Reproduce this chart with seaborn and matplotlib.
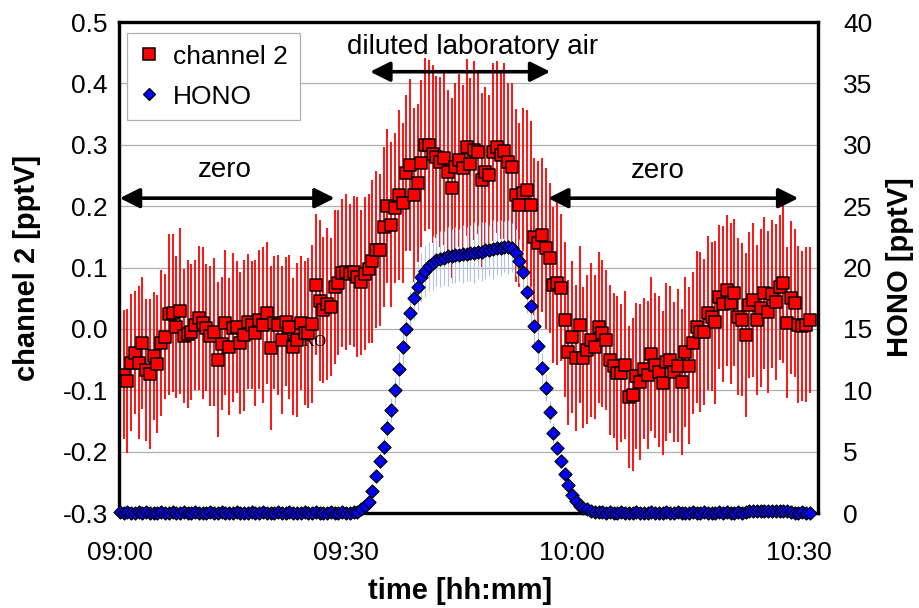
import numpy as np
import matplotlib
matplotlib.use("Agg")
import matplotlib.pyplot as plt
from matplotlib.lines import Line2D
import seaborn as sns

# ---------------- data (30 s samples starting 09:00) ----------------
start_label = "09:00"
step_min = 0.5

ch2 = [
    -0.078, -0.075, -0.085, -0.055, -0.039, -0.055, -0.023, -0.067, -0.073, -0.044,
    -0.057, -0.023, -0.013, 0.024, 0.026, 0.003, 0.029, -0.011, -0.008, -0.005,
    0.006, 0.018, 0.010, 0.002, -0.012, -0.005, -0.050, -0.024, 0.010, -0.029,
    0.002, 0.003, -0.023, -0.010, 0.012, 0.006, -0.007, 0.015, 0.006, 0.026,
    -0.031, 0.010, 0.006, -0.018, 0.012, 0.003, -0.029, -0.018, 0.010, -0.007,
    -0.007, 0.008, 0.072, 0.046, 0.031, 0.040, 0.036, 0.068, 0.075, 0.091,
    0.093, 0.089, 0.093, 0.085, 0.076, 0.090, 0.098, 0.110, 0.129, 0.129,
    0.166, 0.200, 0.170, 0.197, 0.218, 0.205, 0.254, 0.267, 0.218, 0.238,
    0.270, 0.300, 0.300, 0.285, 0.280, 0.272, 0.279, 0.256, 0.230, 0.264,
    0.275, 0.262, 0.296, 0.269, 0.291, 0.288, 0.243, 0.256, 0.250, 0.288,
    0.296, 0.283, 0.290, 0.272, 0.264, 0.218, 0.202, 0.221, 0.226, 0.202,
    0.150, 0.140, 0.153, 0.131, 0.116, 0.072, 0.075, 0.067, 0.015, -0.038,
    -0.013, -0.047, 0.007, -0.047, -0.034, -0.018, -0.029, 0.003, -0.007, -0.018,
    -0.051, -0.060, -0.072, -0.072, -0.059, -0.111, -0.107, -0.077, -0.086, -0.065,
    -0.075, -0.041, -0.059, -0.070, -0.088, -0.054, -0.050, -0.070, -0.060, -0.086,
    -0.038, -0.060, -0.023, 0.003, -0.005, -0.005, 0.026, 0.020, 0.011, 0.052,
    0.040, 0.063, 0.042, 0.059, 0.020, 0.015, -0.010, 0.039, 0.047, 0.015,
    0.034, 0.059, 0.028, 0.057, 0.044, 0.068, 0.075, 0.010, 0.051, 0.042,
    0.007, 0.005, 0.007, 0.015,
]

ch2_err = [
    0.110, 0.105, 0.118, 0.112, 0.100, 0.125, 0.108, 0.115, 0.122, 0.104,
    0.113, 0.119, 0.102, 0.131, 0.128, 0.116, 0.135, 0.109, 0.121, 0.111,
    0.106, 0.117, 0.124, 0.103, 0.114, 0.120, 0.126, 0.108, 0.118, 0.112,
    0.121, 0.107, 0.115, 0.123, 0.110, 0.104, 0.119, 0.113, 0.127, 0.116,
    0.133, 0.108, 0.114, 0.121, 0.105, 0.118, 0.112, 0.125, 0.109, 0.117,
    0.122, 0.128, 0.115, 0.131, 0.119, 0.124, 0.112, 0.126, 0.118, 0.121,
    0.127, 0.115, 0.123, 0.130, 0.118, 0.125, 0.121, 0.133, 0.128, 0.124,
    0.130, 0.126, 0.135, 0.122, 0.138, 0.131, 0.127, 0.140, 0.142, 0.129,
    0.136, 0.141, 0.138, 0.145, 0.132, 0.139, 0.143, 0.134, 0.147, 0.137,
    0.141, 0.135, 0.144, 0.139, 0.146, 0.133, 0.142, 0.138, 0.131, 0.145,
    0.140, 0.136, 0.143, 0.129, 0.137, 0.141, 0.134, 0.139, 0.130, 0.136,
    0.128, 0.133, 0.125, 0.131, 0.122, 0.127, 0.134, 0.120, 0.126, 0.118,
    0.124, 0.119, 0.128, 0.115, 0.121, 0.126, 0.117, 0.123, 0.120, 0.114,
    0.122, 0.118, 0.125, 0.113, 0.120, 0.116, 0.124, 0.119, 0.127, 0.115,
    0.121, 0.126, 0.118, 0.123, 0.117, 0.129, 0.120, 0.114, 0.125, 0.119,
    0.122, 0.128, 0.116, 0.124, 0.130, 0.119, 0.126, 0.121, 0.133, 0.118,
    0.127, 0.123, 0.131, 0.120, 0.128, 0.125, 0.134, 0.119, 0.126, 0.122,
    0.129, 0.124, 0.132, 0.121, 0.127, 0.118, 0.130, 0.123, 0.125, 0.120,
    0.128, 0.122, 0.126, 0.119,
]

hono = [
    0.1, 0.0, 0.1, 0.0, 0.0, 0.1, 0.0, 0.1, 0.0, 0.0,
    0.0, 0.1, 0.0, 0.0, 0.1, 0.0, 0.0, 0.1, 0.0, 0.0,
    0.1, 0.0, 0.0, 0.0, 0.1, 0.0, 0.0, 0.1, 0.0, 0.0,
    0.0, 0.1, 0.0, 0.0, 0.0, 0.1, 0.0, 0.0, 0.1, 0.0,
    0.0, 0.0, 0.1, 0.0, 0.0, 0.1, 0.0, 0.0, 0.0, 0.1,
    0.0, 0.0, 0.1, 0.0, 0.0, 0.0, 0.1, 0.0, 0.0, 0.1,
    0.0, 0.0, 0.1, 0.1, 0.3, 0.6, 0.9, 1.8, 3.0, 4.2,
    5.4, 6.9, 8.4, 10.0, 11.7, 13.5, 15.0, 16.3, 17.5, 18.4,
    19.2, 19.7, 20.1, 20.4, 20.6, 20.7, 20.8, 20.9, 20.9, 21.0,
    21.0, 21.1, 21.1, 21.2, 21.2, 21.3, 21.3, 21.4, 21.4, 21.5,
    21.6, 21.6, 21.7, 21.7, 21.6, 21.2, 20.5, 19.6, 18.0, 16.9,
    15.2, 13.6, 11.8, 10.2, 8.2, 6.5, 5.3, 4.2, 3.2, 2.3,
    1.5, 1.0, 0.6, 0.4, 0.3, 0.2, 0.1, 0.1, 0.1, 0.0,
    0.1, 0.0, 0.0, 0.1, 0.0, 0.0, 0.0, 0.1, 0.0, 0.0,
    0.0, 0.1, 0.0, 0.0, 0.0, 0.1, 0.0, 0.0, 0.1, 0.0,
    0.0, 0.0, 0.1, 0.0, 0.0, 0.1, 0.0, 0.0, 0.0, 0.1,
    0.0, 0.1, 0.0, 0.0, 0.1, 0.0, 0.1, 0.2, 0.2, 0.2,
    0.2, 0.2, 0.2, 0.2, 0.2, 0.2, 0.2, 0.2, 0.1, 0.0,
    0.0, 0.1, 0.0, 0.0,
]

hono_err = [
    0.0, 0.0, 0.0, 0.0, 0.0, 0.0, 0.0, 0.0, 0.0, 0.0,
    0.0, 0.0, 0.0, 0.0, 0.0, 0.0, 0.0, 0.0, 0.0, 0.0,
    0.0, 0.0, 0.0, 0.0, 0.0, 0.0, 0.0, 0.0, 0.0, 0.0,
    0.0, 0.0, 0.0, 0.0, 0.0, 0.0, 0.0, 0.0, 0.0, 0.0,
    0.0, 0.0, 0.0, 0.0, 0.0, 0.0, 0.0, 0.0, 0.0, 0.0,
    0.0, 0.0, 0.0, 0.0, 0.0, 0.0, 0.0, 0.0, 0.0, 0.0,
    0.0, 0.0, 0.0, 0.1, 0.1, 0.2, 0.3, 0.4, 0.5, 0.6,
    0.7, 0.8, 1.0, 1.1, 1.3, 1.4, 1.6, 1.7, 1.8, 1.9,
    2.0, 2.1, 2.0, 2.2, 2.1, 2.3, 2.2, 2.4, 2.2, 2.3,
    2.1, 2.4, 2.2, 2.3, 2.5, 2.2, 2.4, 2.3, 2.1, 2.4,
    2.2, 2.3, 2.1, 2.2, 2.0, 1.9, 1.8, 1.8, 1.7, 1.6,
    1.5, 1.4, 1.2, 1.1, 0.9, 0.8, 0.6, 0.5, 0.4, 0.3,
    0.2, 0.2, 0.1, 0.1, 0.1, 0.0, 0.0, 0.0, 0.0, 0.0,
    0.0, 0.0, 0.0, 0.0, 0.0, 0.0, 0.0, 0.0, 0.0, 0.0,
    0.0, 0.0, 0.0, 0.0, 0.0, 0.0, 0.0, 0.0, 0.0, 0.0,
    0.0, 0.0, 0.0, 0.0, 0.0, 0.0, 0.0, 0.0, 0.0, 0.0,
    0.0, 0.0, 0.0, 0.0, 0.0, 0.0, 0.0, 0.0, 0.0, 0.0,
    0.0, 0.0, 0.0, 0.0, 0.0, 0.0, 0.0, 0.0, 0.0, 0.0,
    0.0, 0.0, 0.0, 0.0,
]

x_tick_labels = ["09:00", "09:30", "10:00", "10:30"]
left_ticks = [-0.3, -0.2, -0.1, 0.0, 0.1, 0.2, 0.3, 0.4, 0.5]
right_ticks = [0, 5, 10, 15, 20, 25, 30, 35, 40]

# ---------------- helpers ----------------
def to_min(label):
    h, m = label.split(":")
    sh, sm = start_label.split(":")
    return (int(h) * 60 + int(m)) - (int(sh) * 60 + int(sm))

n = len(ch2)
assert len(ch2_err) == n and len(hono) == n and len(hono_err) == n
t = np.arange(n) * step_min

# ---------------- style ----------------
sns.set_theme(style="white")
plt.rcParams["font.family"] = ["Liberation Sans", "DejaVu Sans"]
plt.rcParams["text.color"] = "black"
plt.rcParams["axes.labelcolor"] = "black"
plt.rcParams["xtick.color"] = "black"
plt.rcParams["ytick.color"] = "black"

fig = plt.figure(figsize=(9.19, 6.08), dpi=100)
ax = fig.add_axes([0.1295, 0.1562, 0.7606, 0.8076])
ax2 = ax.twinx()

# channel 2 (left axis)
ax.errorbar(t, ch2, yerr=ch2_err, fmt="none", ecolor="#ff0000", elinewidth=1.3, zorder=2)
sns.scatterplot(x=t, y=ch2, ax=ax, marker="s", s=72, color="#ff0000",
                edgecolor="black", linewidth=1.1, zorder=4, legend=False)

ax.text(to_min("09:24") + 0.6, -0.021, "ZERO", family=["Liberation Serif", "DejaVu Serif"],
        fontsize=12, ha="center", va="center", zorder=3, color="black")

# HONO (right axis)
ax2.errorbar(t, hono, yerr=hono_err, fmt="none", ecolor="#b4c4e0", elinewidth=0.8, zorder=2)
sns.scatterplot(x=t, y=hono, ax=ax2, marker="D", s=44, color="#0000ff",
                edgecolor="black", linewidth=0.9, zorder=4, legend=False)
for c in ax2.collections:
    c.set_clip_on(False)

# axes limits / ticks
ax.set_xlim(-0.1, 92.6)
ax.set_ylim(-0.3, 0.5)
ax2.set_ylim(0, 40)
ax.set_xticks([to_min(l) for l in x_tick_labels])
ax.set_xticklabels(x_tick_labels)
ax.set_yticks(left_ticks)
ax.set_yticklabels([f"{v:.1f}" for v in left_ticks])
ax2.set_yticks(right_ticks)
ax2.set_yticklabels([str(v) for v in right_ticks])

ax.tick_params(axis="x", length=0, pad=20, labelsize=19)
ax.tick_params(axis="y", length=0, pad=8, labelsize=19)
ax2.tick_params(axis="y", length=0, pad=18, labelsize=19)

ax.yaxis.grid(True, color="#b0b0b0", linewidth=0.9)
ax.xaxis.grid(False)
ax2.grid(False)
ax.set_axisbelow(True)

for a in (ax, ax2):
    for s in a.spines.values():
        s.set_color("black")
        s.set_linewidth(2.3)

ax.set_xlabel("time [hh:mm]", fontsize=21, fontweight="bold")
ax.xaxis.set_label_coords(0.488, -0.158)
ax.xaxis.label.set_va("center")
ax.set_ylabel("channel 2 [pptV]", fontsize=21, fontweight="bold")
ax.yaxis.set_label_coords(-0.131, 0.5)
ax.yaxis.label.set_va("center")
ax2.set_ylabel("HONO [pptV]", fontsize=21, fontweight="bold", rotation=90)
ax2.yaxis.set_label_coords(1.118, 0.5)
ax2.yaxis.label.set_va("center")

# annotations
arrow_kw = dict(arrowstyle="<|-|>,head_length=0.6,head_width=0.3", color="black",
                lw=2.6, shrinkA=0, shrinkB=0, mutation_scale=20)
ax.annotate("", xy=(28.5, 0.213), xytext=(0.0, 0.213), arrowprops=arrow_kw, zorder=6)
ax.annotate("", xy=(57.1, 0.419), xytext=(33.2, 0.419), arrowprops=arrow_kw, zorder=6)
ax.annotate("", xy=(90.0, 0.213), xytext=(56.8, 0.213), arrowprops=arrow_kw, zorder=6)
ax.text(13.9, 0.259, "zero", fontsize=20, ha="center", va="center", zorder=6)
ax.text(71.3, 0.257, "zero", fontsize=20, ha="center", va="center", zorder=6)
ax.text(46.8, 0.459, "diluted laboratory air", fontsize=20, ha="center", va="center", zorder=6)

# legend
handles = [
    Line2D([], [], marker="s", linestyle="none", markersize=8.5, markerfacecolor="#ff0000",
           markeredgecolor="black", markeredgewidth=1.1, label="channel 2"),
    Line2D([], [], marker="D", linestyle="none", markersize=6, markerfacecolor="#0000ff",
           markeredgecolor="black", markeredgewidth=0.9, label="HONO"),
]
leg = ax2.legend(handles=handles, loc="upper left", bbox_to_anchor=(0.011, 0.978),
                 borderaxespad=0, fontsize=19, frameon=True, fancybox=False,
                 edgecolor="#b0b0b0", framealpha=1, handlelength=0.8,
                 handletextpad=0.5, borderpad=0.45, labelspacing=0.6)
leg.get_frame().set_linewidth(0.9)

fig.savefig("out.png", dpi=100)
